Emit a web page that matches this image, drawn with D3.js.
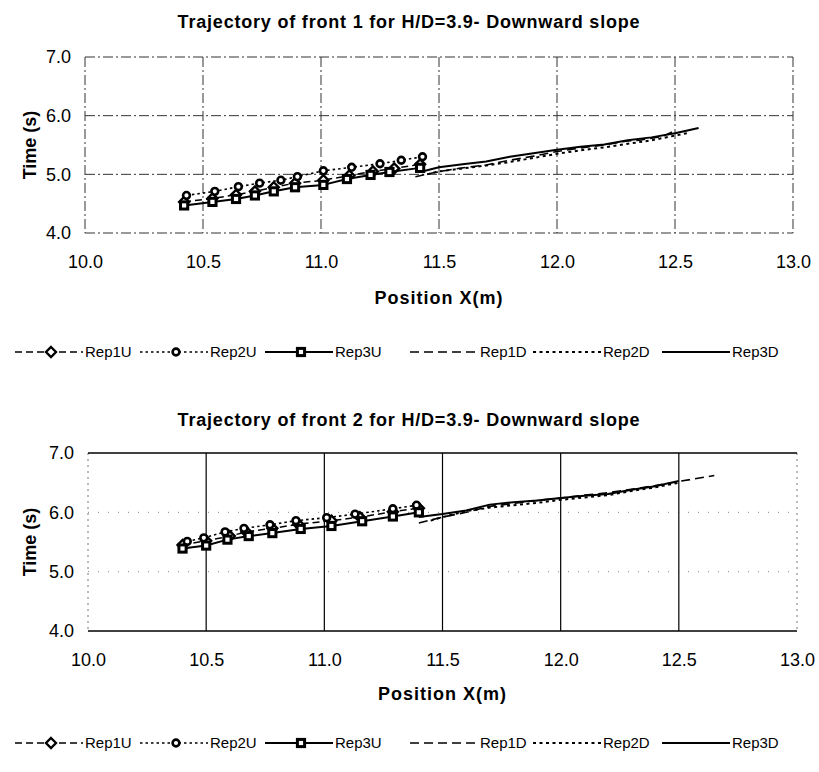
<!DOCTYPE html>
<html>
<head>
<meta charset="utf-8">
<script src="https://cdn.jsdelivr.net/npm/d3@7"></script>
<style>
  body { margin: 0; background: #fff; }
  text { font-family: Arial, "Liberation Sans", sans-serif; fill: #000; }
</style>
</head>
<body>
<svg id="chart" width="819" height="772"></svg>
<script>
// front 1 - upward reps (x in m, t in s)
const f1Rep1U_x = [10.42, 10.54, 10.64, 10.72, 10.80, 10.89, 11.01, 11.12, 11.22, 11.31, 11.42];
const f1Rep1U_t = [4.53, 4.59, 4.65, 4.71, 4.78, 4.85, 4.90, 4.98, 5.05, 5.10, 5.17];
const f1Rep2U_x = [10.43, 10.55, 10.65, 10.74, 10.83, 10.90, 11.01, 11.13, 11.25, 11.34, 11.43];
const f1Rep2U_t = [4.64, 4.71, 4.79, 4.85, 4.90, 4.96, 5.06, 5.12, 5.18, 5.24, 5.30];
const f1Rep3U_x = [10.42, 10.54, 10.64, 10.72, 10.80, 10.89, 11.01, 11.11, 11.21, 11.29, 11.42];
const f1Rep3U_t = [4.47, 4.53, 4.58, 4.64, 4.71, 4.78, 4.82, 4.92, 4.99, 5.04, 5.11];
// front 1 - downward reps
const f1Rep1D_x = [11.40, 11.48, 11.58, 11.70, 11.80, 11.90, 12.00, 12.10, 12.20, 12.30, 12.35, 12.45, 12.50];
const f1Rep1D_t = [4.96, 5.03, 5.10, 5.16, 5.24, 5.31, 5.39, 5.45, 5.50, 5.57, 5.58, 5.65, 5.75];
const f1Rep2D_x = [11.45, 11.50, 11.60, 11.70, 11.80, 11.90, 12.00, 12.10, 12.20, 12.30, 12.40, 12.50, 12.55];
const f1Rep2D_t = [5.00, 5.05, 5.10, 5.15, 5.21, 5.28, 5.35, 5.41, 5.46, 5.52, 5.58, 5.66, 5.70];
const f1Rep3D_x = [11.42, 11.50, 11.60, 11.70, 11.80, 11.90, 12.00, 12.10, 12.20, 12.30, 12.40, 12.50, 12.60];
const f1Rep3D_t = [5.04, 5.12, 5.17, 5.22, 5.30, 5.36, 5.42, 5.47, 5.51, 5.58, 5.63, 5.70, 5.79];

// front 2
const f2Rep1U_x = [10.40, 10.50, 10.60, 10.67, 10.78, 10.89, 11.03, 11.15, 11.29, 11.40];
const f2Rep1U_t = [5.45, 5.52, 5.60, 5.67, 5.73, 5.80, 5.86, 5.92, 6.01, 6.07];
const f2Rep2U_x = [10.42, 10.49, 10.58, 10.66, 10.77, 10.88, 11.01, 11.13, 11.29, 11.39];
const f2Rep2U_t = [5.51, 5.57, 5.67, 5.73, 5.79, 5.86, 5.91, 5.97, 6.06, 6.12];
const f2Rep3U_x = [10.40, 10.50, 10.59, 10.68, 10.78, 10.90, 11.03, 11.16, 11.29, 11.40];
const f2Rep3U_t = [5.39, 5.44, 5.54, 5.60, 5.65, 5.72, 5.77, 5.85, 5.93, 6.00];
const f2Rep1D_x = [11.40, 11.50, 11.60, 11.70, 11.80, 11.90, 12.00, 12.10, 12.20, 12.30, 12.40, 12.50, 12.65];
const f2Rep1D_t = [5.82, 5.92, 6.00, 6.10, 6.15, 6.20, 6.24, 6.29, 6.33, 6.39, 6.45, 6.52, 6.62];
const f2Rep2D_x = [11.45, 11.50, 11.60, 11.70, 11.80, 11.90, 12.00, 12.10, 12.20, 12.30, 12.40, 12.50];
const f2Rep2D_t = [5.86, 5.92, 6.02, 6.08, 6.12, 6.16, 6.21, 6.25, 6.29, 6.36, 6.42, 6.50];
const f2Rep3D_x = [11.40, 11.50, 11.60, 11.70, 11.80, 11.90, 12.00, 12.10, 12.20, 12.30, 12.40, 12.50];
const f2Rep3D_t = [5.92, 5.97, 6.03, 6.13, 6.17, 6.20, 6.24, 6.28, 6.31, 6.38, 6.44, 6.53];

const seriesNames = ["Rep1U", "Rep2U", "Rep3U", "Rep1D", "Rep2D", "Rep3D"];
const xTicks = [10.0, 10.5, 11.0, 11.5, 12.0, 12.5, 13.0];
const yTicks = [4.0, 5.0, 6.0, 7.0];

// line / marker style per series
const styles = {
  Rep1U: { dash: "7,4", width: 1.5, marker: "diamond" },
  Rep2U: { dash: "2.5,3", width: 1.6, marker: "circle" },
  Rep3U: { dash: null, width: 2, marker: "square" },
  Rep1D: { dash: "9,5", width: 1.6, marker: null },
  Rep2D: { dash: "3,3.5", width: 2, marker: null },
  Rep3D: { dash: null, width: 2, marker: null }
};

const zip = (xs, ts) => xs.map((x, i) => ({ x: x, t: ts[i] }));

const svg = d3.select("#chart");

function drawMarker(g, type, cx, cy) {
  if (type === "circle") {
    g.append("circle").attr("cx", cx).attr("cy", cy).attr("r", 3.4)
      .attr("fill", "#fff").attr("stroke", "#000").attr("stroke-width", 2.6);
  } else if (type === "square") {
    g.append("rect").attr("x", cx - 3.6).attr("y", cy - 3.6).attr("width", 7.2).attr("height", 7.2)
      .attr("fill", "#fff").attr("stroke", "#000").attr("stroke-width", 3);
  } else if (type === "diamond") {
    g.append("path").attr("d", `M${cx},${cy - 5}L${cx + 5},${cy}L${cx},${cy + 5}L${cx - 5},${cy}Z`)
      .attr("fill", "#fff").attr("stroke", "#000").attr("stroke-width", 2.4);
  }
}

function drawChart(cfg) {
  const g = svg.append("g");
  const x = d3.scaleLinear().domain([10, 13]).range([cfg.left, cfg.right]);
  const y = d3.scaleLinear().domain([4, 7]).range([cfg.bottom, cfg.top]);

  // grid
  if (cfg.grid === "dashdot") {
    const dd = "10,3,2,3";
    g.selectAll(".hg").data(yTicks).join("line")
      .attr("x1", cfg.left).attr("x2", cfg.right)
      .attr("y1", d => y(d)).attr("y2", d => y(d))
      .attr("stroke", "#333").attr("stroke-width", 1).attr("stroke-dasharray", dd);
    g.selectAll(".vg").data(xTicks).join("line")
      .attr("y1", cfg.top).attr("y2", cfg.bottom)
      .attr("x1", d => x(d)).attr("x2", d => x(d))
      .attr("stroke", "#333").attr("stroke-width", 1).attr("stroke-dasharray", dd);
  } else {
    g.selectAll(".hg").data([5.0, 6.0]).join("line")
      .attr("x1", cfg.left).attr("x2", cfg.right)
      .attr("y1", d => y(d)).attr("y2", d => y(d))
      .attr("stroke", "#888").attr("stroke-width", 1).attr("stroke-dasharray", "1,9");
    g.selectAll(".vg").data([10.5, 11.0, 11.5, 12.0, 12.5]).join("line")
      .attr("y1", cfg.top).attr("y2", cfg.bottom)
      .attr("x1", d => x(d)).attr("x2", d => x(d))
      .attr("stroke", "#000").attr("stroke-width", 1.2);
    g.selectAll(".side").data([10.0, 13.0]).join("line")
      .attr("y1", cfg.top).attr("y2", cfg.bottom)
      .attr("x1", d => x(d)).attr("x2", d => x(d))
      .attr("stroke", "#777").attr("stroke-width", 1).attr("stroke-dasharray", "2,4");
    g.selectAll(".edge").data([4.0, 7.0]).join("line")
      .attr("x1", cfg.left).attr("x2", cfg.right)
      .attr("y1", d => y(d)).attr("y2", d => y(d))
      .attr("stroke", "#000").attr("stroke-width", 1.5);
  }

  // axes (labels only)
  const xAxis = g.append("g").attr("transform", `translate(0,${cfg.bottom})`)
    .call(d3.axisBottom(x).tickValues(xTicks).tickFormat(d3.format(".1f")).tickSize(0).tickPadding(22));
  const yAxis = g.append("g").attr("transform", `translate(${cfg.left},0)`)
    .call(d3.axisLeft(y).tickValues(yTicks).tickFormat(d3.format(".1f")).tickSize(0).tickPadding(14));
  [xAxis, yAxis].forEach(a => {
    a.select(".domain").remove();
    a.selectAll("text").attr("font-size", 18).attr("fill", "#000");
  });

  // titles
  g.append("text").attr("x", cfg.titleX).attr("y", cfg.titleY).attr("text-anchor", "middle")
    .attr("font-size", 18).attr("font-weight", "bold").attr("letter-spacing", 0.8).text(cfg.title);
  g.append("text").attr("x", (cfg.left + cfg.right) / 2).attr("y", cfg.xTitleY).attr("text-anchor", "middle")
    .attr("font-size", 18).attr("font-weight", "bold").attr("letter-spacing", 1).text("Position X(m)");
  g.append("text").attr("transform", `translate(36,${(cfg.top + cfg.bottom) / 2}) rotate(-90)`)
    .attr("text-anchor", "middle").attr("font-size", 18).attr("font-weight", "bold").text("Time (s)");

  // series
  const line = d3.line().x(d => x(d.x)).y(d => y(d.t));
  seriesNames.forEach(name => {
    const st = styles[name];
    const pts = cfg.data[name];
    g.append("path").datum(pts).attr("d", line)
      .attr("fill", "none").attr("stroke", "#000").attr("stroke-width", st.width)
      .attr("stroke-dasharray", st.dash).attr("stroke-linejoin", "round");
    if (st.marker) pts.forEach(p => drawMarker(g, st.marker, x(p.x), y(p.t)));
  });

  // legend
  const lx = [15, 140, 265, 410, 533, 662];
  const lg = g.append("g");
  seriesNames.forEach((name, i) => {
    const st = styles[name];
    const x0 = lx[i], ly = cfg.legendY;
    lg.append("line").attr("x1", x0).attr("x2", x0 + 68).attr("y1", ly).attr("y2", ly)
      .attr("stroke", "#000").attr("stroke-width", st.width).attr("stroke-dasharray", st.dash);
    if (st.marker) drawMarker(lg, st.marker, x0 + 36, ly);
    lg.append("text").attr("x", x0 + 70).attr("y", ly + 5).attr("font-size", 15).text(name);
  });
}

drawChart({
  left: 85, right: 793, top: 57, bottom: 233,
  grid: "dashdot",
  title: "Trajectory of front 1 for H/D=3.9- Downward slope",
  titleX: 409, titleY: 28, xTitleY: 304, legendY: 352,
  data: {
    Rep1U: zip(f1Rep1U_x, f1Rep1U_t), Rep2U: zip(f1Rep2U_x, f1Rep2U_t), Rep3U: zip(f1Rep3U_x, f1Rep3U_t),
    Rep1D: zip(f1Rep1D_x, f1Rep1D_t), Rep2D: zip(f1Rep2D_x, f1Rep2D_t), Rep3D: zip(f1Rep3D_x, f1Rep3D_t)
  }
});

drawChart({
  left: 88, right: 797, top: 453, bottom: 631,
  grid: "solid",
  title: "Trajectory of front 2 for H/D=3.9- Downward slope",
  titleX: 409, titleY: 426, xTitleY: 700, legendY: 743,
  data: {
    Rep1U: zip(f2Rep1U_x, f2Rep1U_t), Rep2U: zip(f2Rep2U_x, f2Rep2U_t), Rep3U: zip(f2Rep3U_x, f2Rep3U_t),
    Rep1D: zip(f2Rep1D_x, f2Rep1D_t), Rep2D: zip(f2Rep2D_x, f2Rep2D_t), Rep3D: zip(f2Rep3D_x, f2Rep3D_t)
  }
});
</script>
</body>
</html>
